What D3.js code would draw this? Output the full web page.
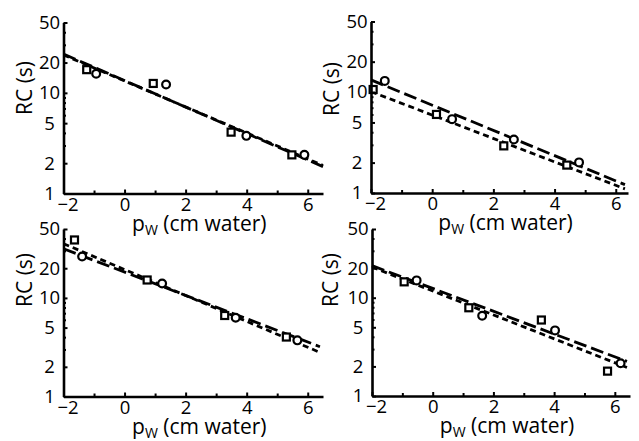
<!DOCTYPE html>
<html><head><meta charset="utf-8">
<script src="https://cdn.jsdelivr.net/npm/d3@7"></script>
<style>
body{margin:0;background:#fff}
svg{display:block}
text{font-family:"Open Sans",sans-serif;fill:#000}
</style>
</head><body>
<svg id="c" width="639" height="441"></svg>
<script>
// ---------- data ----------
const xTicks = [-2, 0, 2, 4, 6];
const xMinorTicks = [-1, 1, 3, 5];
const yTicks = [1, 2, 5, 10, 20, 50];
const yMinorTicks = [3, 4, 6, 7, 8, 9, 30, 40];
const yLabel = "RC (s)";
const xLabelMain = "p";
const xLabelSub = "W";
const xLabelRest = " (cm water)";

// Panel A (top-left)
const sqX_A = [-1.24, 0.94, 3.49, 5.48];
const sqY_A = [17.0, 12.4, 4.07, 2.42];
const ciX_A = [-0.93, 1.36, 3.99, 5.89];
const ciY_A = [15.5, 12.1, 3.74, 2.42];
const fitX_A = [-2, 6.5];
const longFit_A = [24.3, 1.85];
const shortFit_A = [23.8, 1.9];

// Panel B (top-right)
const sqX_B = [-1.93, 0.14, 2.34, 4.40];
const sqY_B = [10.6, 6.0, 2.93, 1.89];
const ciX_B = [-1.55, 0.65, 2.67, 4.80];
const ciY_B = [12.9, 5.39, 3.39, 2.01];
const fitX_B = [-2, 6.3];
const longFit_B = [13.2, 1.21];
const shortFit_B = [10.1, 1.1];

// Panel C (bottom-left)
const sqX_C = [-1.64, 0.74, 3.28, 5.30];
const sqY_C = [38.7, 15.2, 6.63, 4.01];
const ciX_C = [-1.39, 1.23, 3.64, 5.66];
const ciY_C = [26.3, 14.0, 6.29, 3.71];
const fitX_C = [-2, 6.4];
const longFit_C = [31.5, 3.2];
const shortFit_C = [35.5, 2.8];

// Panel D (bottom-right)
const sqX_D = [-0.94, 1.19, 3.58, 5.76];
const sqY_D = [14.5, 7.9, 5.93, 1.79];
const ciX_D = [-0.53, 1.63, 4.03, 6.19];
const ciY_D = [15.0, 6.56, 4.65, 2.15];
const fitX_D = [-2, 6.4];
const longFit_D = [21.2, 2.25];
const shortFit_D = [20.5, 1.95];

const panelData = [
  {sqX: sqX_A, sqY: sqY_A, ciX: ciX_A, ciY: ciY_A, fitX: fitX_A, longFit: longFit_A, shortFit: shortFit_A},
  {sqX: sqX_B, sqY: sqY_B, ciX: ciX_B, ciY: ciY_B, fitX: fitX_B, longFit: longFit_B, shortFit: shortFit_B},
  {sqX: sqX_C, sqY: sqY_C, ciX: ciX_C, ciY: ciY_C, fitX: fitX_C, longFit: longFit_C, shortFit: shortFit_C},
  {sqX: sqX_D, sqY: sqY_D, ciX: ciX_D, ciY: ciY_D, fitX: fitX_D, longFit: longFit_D, shortFit: shortFit_D}
];

// ---------- layout ----------
const layout = [
  {left: 63.5, right: 323, top: 22.5, bottom: 193.5, xMax: 6.5, ylabX: 32, ylabY: 88},
  {left: 371, right: 628, top: 21.5, bottom: 193, xMax: 6.4, ylabX: 339, ylabY: 89},
  {left: 63.5, right: 323, top: 229, bottom: 396.5, xMax: 6.5, ylabX: 32, ylabY: 280},
  {left: 372, right: 630, top: 229, bottom: 396, xMax: 6.5, ylabX: 338, ylabY: 280}
];

const svg = d3.select("#c");

panelData.forEach((d, i) => {
  const L = layout[i];
  const x = d3.scaleLinear().domain([-2, L.xMax]).range([L.left, L.right]);
  const y = d3.scaleLog().domain([1, 50]).range([L.bottom, L.top]);
  const g = svg.append("g");

  // fit lines
  const line = d3.line().x(p => x(p[0])).y(p => y(p[1]));
  const longPts = d.fitX.map((xx, k) => [xx, d.longFit[k]]);
  const shortPts = d.fitX.map((xx, k) => [xx, d.shortFit[k]]);
  g.append("path").attr("d", line(longPts)).attr("fill", "none")
    .attr("stroke", "#000").attr("stroke-width", 2.8).attr("stroke-dasharray", "13,5");
  g.append("path").attr("d", line(shortPts)).attr("fill", "none")
    .attr("stroke", "#000").attr("stroke-width", 2.8).attr("stroke-dasharray", "6,4");

  // markers
  const s = 7;
  g.selectAll("rect.sq").data(d.sqX.map((xx, k) => [xx, d.sqY[k]])).enter()
    .append("rect").attr("class", "sq")
    .attr("x", p => x(p[0]) - s / 2).attr("y", p => y(p[1]) - s / 2)
    .attr("width", s).attr("height", s)
    .attr("fill", "#fff").attr("stroke", "#000").attr("stroke-width", 2.2);
  g.selectAll("circle.ci").data(d.ciX.map((xx, k) => [xx, d.ciY[k]])).enter()
    .append("circle").attr("class", "ci")
    .attr("cx", p => x(p[0])).attr("cy", p => y(p[1])).attr("r", 3.9)
    .attr("fill", "#fff").attr("stroke", "#000").attr("stroke-width", 2.2);

  // x axis
  const xa = g.append("g").attr("transform", `translate(0,${L.bottom})`)
    .call(d3.axisBottom(x).tickValues(xTicks).tickSizeInner(-4).tickSizeOuter(0)
      .tickPadding(4).tickFormat(d3.format("d")));
  xa.selectAll(".tick text").filter(v => v < 0).attr("dx", 4);
  g.append("g").attr("transform", `translate(0,${L.bottom})`)
    .call(d3.axisBottom(x).tickValues(xMinorTicks).tickSizeInner(-3).tickSizeOuter(0).tickFormat(""))
    .select(".domain").remove();

  // y axis
  const ya = g.append("g").attr("transform", `translate(${L.left},0)`)
    .call(d3.axisLeft(y).tickValues(yTicks).tickSizeInner(-4).tickSizeOuter(0)
      .tickPadding(14).tickFormat(d3.format("d")));
  ya.selectAll(".tick text").attr("text-anchor", "middle");
  g.append("g").attr("transform", `translate(${L.left},0)`)
    .call(d3.axisLeft(y).tickValues(yMinorTicks).tickSizeInner(-2.5).tickSizeOuter(0).tickFormat(""))
    .select(".domain").remove();

  g.selectAll(".domain").attr("stroke", "#000").attr("stroke-width", 2.6);
  g.selectAll(".tick line").attr("stroke", "#000").attr("stroke-width", 2);
  g.selectAll(".tick text").style("font-family", '"Open Sans",sans-serif')
    .style("font-size", "18.5px").attr("fill", "#000");

  // axis titles
  const xt = g.append("text")
    .attr("x", (L.left + L.right) / 2 + 6).attr("y", L.bottom + 37)
    .attr("text-anchor", "middle").style("font-size", "21px");
  xt.append("tspan").text(xLabelMain);
  xt.append("tspan").attr("dy", 4).style("font-size", "14px").text(xLabelSub);
  xt.append("tspan").attr("dy", -4).text(xLabelRest);

  g.append("text")
    .attr("transform", `translate(${L.ylabX},${L.ylabY}) rotate(-90)`)
    .attr("text-anchor", "middle").style("font-size", "21px").text(yLabel);
});
</script>
</body></html>
